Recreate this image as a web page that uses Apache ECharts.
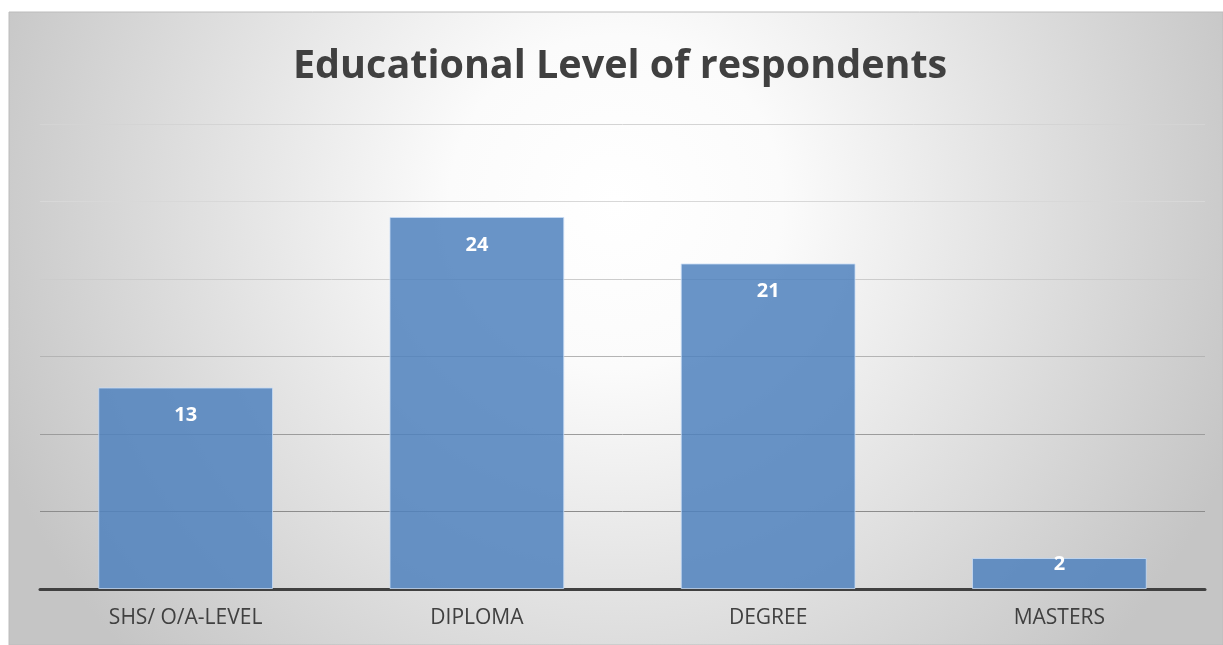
<!DOCTYPE html>
<html>
<head>
<meta charset="utf-8">
<script src="https://cdn.jsdelivr.net/npm/echarts@6/dist/echarts.min.js"></script>
<style>
html,body{margin:0;padding:0;background:#fff;}
#chart{width:1223px;height:645px;}
</style>
</head>
<body>
<div id="chart"></div>
<script>
const titleText = 'Educational Level of respondents';
const categories = ['SHS/ O/A-LEVEL', 'DIPLOMA', 'DEGREE', 'MASTERS'];
const values = [13, 24, 21, 2];
const yMin = 0, yMax = 30, yInterval = 5;

const seriesData = values.map(v => v < 5
  ? {value: v, label: {position: ['50%', 6], align: 'center', verticalAlign: 'middle'}}
  : v);

const chart = echarts.init(document.getElementById('chart'), null, {renderer: 'canvas'});
const option = {
  backgroundColor: '#ffffff',
  animation: false,
  graphic: [{
    type: 'rect',
    z: -10,
    silent: true,
    shape: {x: 9, y: 12, width: 1214, height: 633},
    style: {
      fill: {
        type: 'radial', x: 0.5, y: 0.3, r: 1.05,
        colorStops: [
          {offset: 0, color: '#ffffff'},
          {offset: 0.25, color: '#fbfbfb'},
          {offset: 1, color: '#c5c5c5'}
        ]
      },
      stroke: '#bcbcbc', lineWidth: 1
    }
  }],
  title: {
    text: titleText,
    left: 288,
    top: 42,
    textStyle: {fontFamily: 'Open Sans', fontWeight: 'bold', fontSize: 39.5, color: '#404040'}
  },
  grid: {left: 40, right: 18, top: 124, bottom: 56, containLabel: false},
  xAxis: {
    type: 'category',
    data: categories,
    axisLine: {show: true, lineStyle: {color: '#404040', width: 3}},
    axisTick: {show: false},
    axisLabel: {fontFamily: 'Open Sans', fontSize: 21, color: '#404040', margin: 19}
  },
  yAxis: {
    type: 'value',
    min: yMin, max: yMax, interval: yInterval,
    axisLabel: {show: false},
    axisLine: {show: false},
    axisTick: {show: false},
    splitLine: {show: true, lineStyle: {width: 1, color: ['#808080', '#8c8c8c', '#9c9c9c', '#b4b4b4', '#cccccc', '#d8d8d8', '#d4d4d4']}}
  },
  series: [{
    type: 'bar',
    data: seriesData,
    barWidth: '60%',
    itemStyle: {color: 'rgba(79,129,189,0.85)', borderColor: 'rgba(200,220,245,0.8)', borderWidth: 1},
    label: {
      show: true, position: 'insideTop', distance: 18,
      fontFamily: 'Open Sans', fontWeight: 'bold', fontSize: 20, color: '#ffffff'
    }
  }]
};
chart.setOption(option);
</script>
</body>
</html>
